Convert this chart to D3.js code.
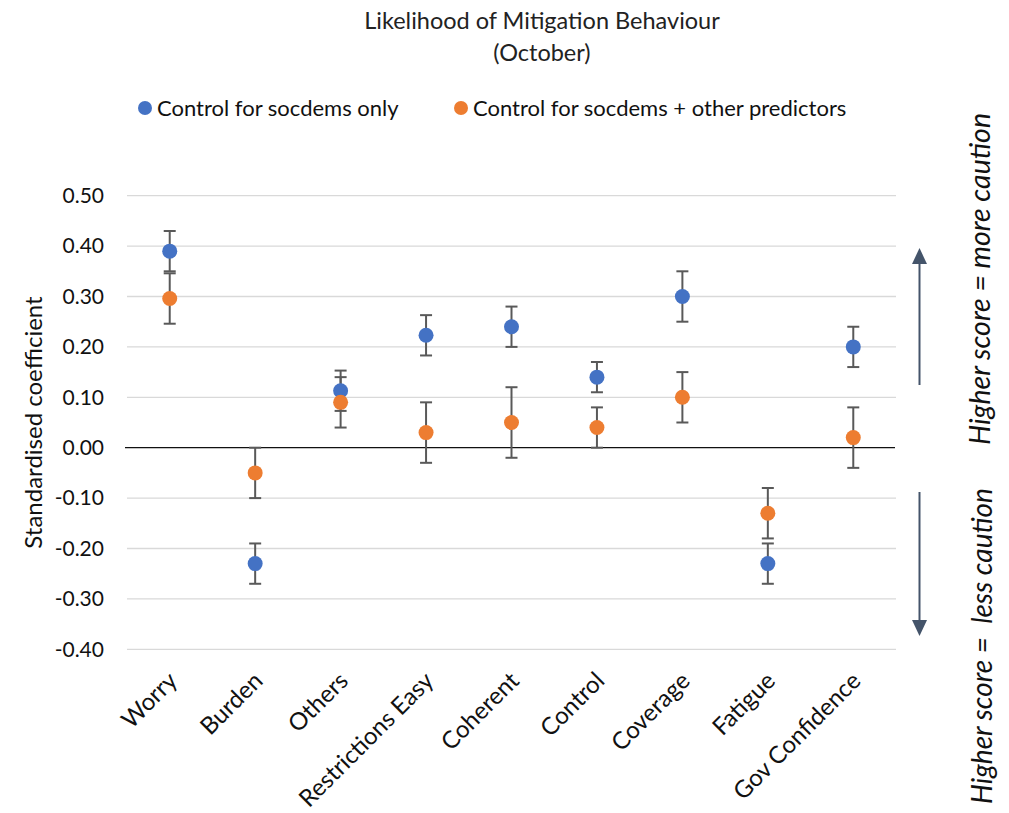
<!DOCTYPE html>
<html>
<head>
<meta charset="utf-8">
<script src="https://cdn.jsdelivr.net/npm/d3@7/dist/d3.min.js"></script>
<style>
  html, body { margin: 0; padding: 0; background: #fff; }
  svg { display: block; font-family: Lato, "Open Sans", sans-serif; }
</style>
</head>
<body>
<svg id="chart" width="1009" height="813"></svg>
<script>
// Predictors of mitigation behaviour (October)
const categories = ["Worry", "Burden", "Others", "Restrictions Easy", "Coherent",
                    "Control", "Coverage", "Fatigue", "Gov Confidence"];
const seriesNames = ["Control for socdems only", "Control for socdems + other predictors"];
// Standardised coefficients and error-bar half-widths
const socdemsOnly      = [0.39, -0.23, 0.113, 0.223, 0.24, 0.14, 0.30, -0.23, 0.20];
const socdemsOnlyErr   = [0.04,  0.04, 0.04,  0.04,  0.04, 0.03, 0.05,  0.04, 0.04];
const withPredictors    = [0.296, -0.05, 0.09, 0.03, 0.05, 0.04, 0.10, -0.13, 0.02];
const withPredictorsErr = [0.05,   0.05, 0.05, 0.06, 0.07, 0.04, 0.05,  0.05, 0.06];
const yTicks = [0.5, 0.4, 0.3, 0.2, 0.1, 0.0, -0.1, -0.2, -0.3, -0.4];

const colors = ["#4472C4", "#ED7D31"];
const series = [
  { name: seriesNames[0], values: socdemsOnly, errs: socdemsOnlyErr, color: colors[0] },
  { name: seriesNames[1], values: withPredictors, errs: withPredictorsErr, color: colors[1] }
];

const svg = d3.select("#chart");
const plot = { left: 127, right: 896, top: 195.7, bottom: 649.3 };

const x = d3.scaleBand().domain(categories).range([plot.left, plot.right]);
const y = d3.scaleLinear().domain([-0.4, 0.5]).range([plot.bottom, plot.top]);
const cx = c => x(c) + x.bandwidth() / 2;

// Title
svg.append("text").attr("x", 542).attr("y", 29).attr("text-anchor", "middle")
  .attr("font-size", 23.5).attr("fill", "#222").text("Likelihood of Mitigation Behaviour");
svg.append("text").attr("x", 542).attr("y", 61).attr("text-anchor", "middle")
  .attr("font-size", 23.5).attr("fill", "#222").text("(October)");

// Legend
const legendItems = [{ cx: 145, tx: 157 }, { cx: 461, tx: 473 }];
series.forEach((s, i) => {
  const g = svg.append("g");
  g.append("circle").attr("cx", legendItems[i].cx).attr("cy", 108).attr("r", 7).attr("fill", s.color);
  g.append("text").attr("x", legendItems[i].tx).attr("y", 115.5).attr("font-size", 22)
    .attr("fill", "#111").text(s.name);
});

// Gridlines
svg.append("g").selectAll("line").data(yTicks.filter(d => d !== 0)).join("line")
  .attr("x1", plot.left).attr("x2", plot.right)
  .attr("y1", d => y(d)).attr("y2", d => y(d))
  .attr("stroke", "#d9d9d9").attr("stroke-width", 1.3);

// Y axis labels (plain hyphen for negatives)
const fmt = d3.format(".2f");
const yAxis = d3.axisLeft(y).tickValues(yTicks)
  .tickFormat(d => fmt(d).replace("\u2212", "-")).tickSize(0).tickPadding(0);
const yg = svg.append("g").attr("transform", `translate(104,0)`).call(yAxis);
yg.select(".domain").remove();
yg.selectAll("text").attr("font-size", 21).attr("fill", "#111").attr("font-family", "Lato, sans-serif");

// Zero line
svg.append("line").attr("x1", plot.left - 2).attr("x2", plot.right - 1)
  .attr("y1", y(0)).attr("y2", y(0)).attr("stroke", "#111").attr("stroke-width", 1.3);

// Y axis title
svg.append("text").attr("transform", `translate(42,${(plot.top + plot.bottom) / 2}) rotate(-90)`)
  .attr("text-anchor", "middle").attr("font-size", 24).attr("fill", "#111")
  .text("Standardised coefficient");

// X axis labels
const xAxis = d3.axisBottom(x).tickSize(0).tickPadding(0);
const xg = svg.append("g").attr("transform", `translate(0,${plot.bottom})`).call(xAxis);
xg.select(".domain").remove();
xg.selectAll("text")
  .attr("font-size", 24).attr("fill", "#111").attr("font-family", "Lato, sans-serif")
  .attr("text-anchor", "end").attr("dy", null).attr("y", 0)
  .attr("transform", `translate(9,33) rotate(-45)`);

// Error bars and markers
const capHalf = 6;
series.forEach(s => {
  s.data = categories.map((c, i) => ({ c, v: s.values[i], e: s.errs[i] }));
  const eb = svg.append("g").selectAll("g.err").data(s.data).join("g").attr("class", "err")
    .attr("stroke", "#595959").attr("stroke-width", 2);
  eb.append("line")
    .attr("x1", d => cx(d.c)).attr("x2", d => cx(d.c))
    .attr("y1", d => y(d.v + d.e)).attr("y2", d => y(d.v - d.e));
  eb.append("line")
    .attr("x1", d => cx(d.c) - capHalf).attr("x2", d => cx(d.c) + capHalf)
    .attr("y1", d => y(d.v + d.e)).attr("y2", d => y(d.v + d.e));
  eb.append("line")
    .attr("x1", d => cx(d.c) - capHalf).attr("x2", d => cx(d.c) + capHalf)
    .attr("y1", d => y(d.v - d.e)).attr("y2", d => y(d.v - d.e));
});
series.forEach(s => {
  svg.append("g").selectAll("circle").data(s.data).join("circle")
    .attr("cx", d => cx(d.c)).attr("cy", d => y(d.v))
    .attr("r", 7.5).attr("fill", s.color);
});

// Direction arrows
const arrowColor = "#44546A";
function arrow(x0, yFrom, yTip) {
  const dir = yTip < yFrom ? -1 : 1;
  svg.append("line").attr("x1", x0).attr("x2", x0).attr("y1", yFrom).attr("y2", yTip - dir * 14)
    .attr("stroke", arrowColor).attr("stroke-width", 2);
  svg.append("path")
    .attr("d", `M${x0},${yTip} L${x0 - 7.5},${yTip - dir * 16} L${x0 + 7.5},${yTip - dir * 16} Z`)
    .attr("fill", arrowColor);
}
arrow(919.5, 385, 248);
arrow(919.5, 492, 636);

// Direction annotations
svg.append("text").attr("transform", "translate(990,279) rotate(-90)")
  .attr("text-anchor", "middle").attr("font-size", 28.5).attr("font-style", "italic")
  .attr("fill", "#111").text("Higher score = more caution");
svg.append("text").attr("transform", "translate(992,646) rotate(-90)")
  .attr("text-anchor", "middle").attr("font-size", 28).attr("font-style", "italic")
  .attr("fill", "#111").style("white-space", "pre")
  .text("Higher score =  less caution");
</script>
</body>
</html>
